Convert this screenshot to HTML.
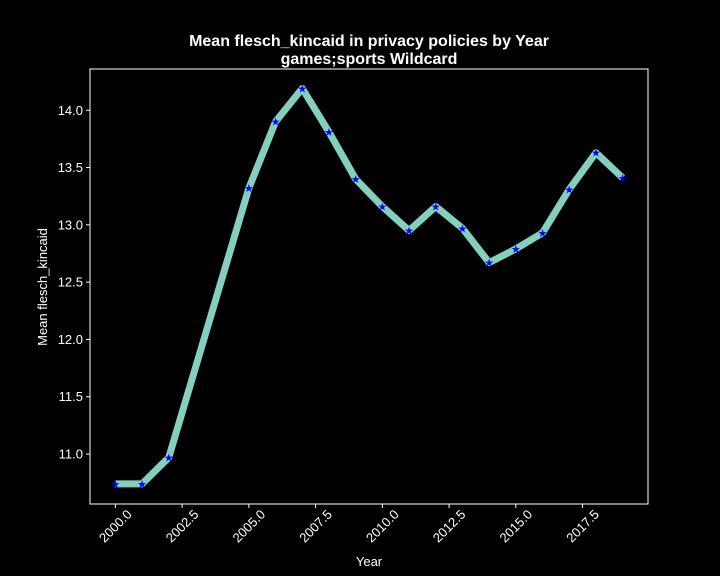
<!DOCTYPE html>
<html><head><meta charset="utf-8"><style>
body{margin:0;background:#000;}
svg{display:block;font-family:"Liberation Sans","DejaVu Sans",sans-serif;}
</style></head><body>
<svg id="chart" width="720" height="576">
<rect width="720" height="576" fill="#000"/>
<text x="369" y="46" fill="#fff" font-size="16" font-weight="bold" text-anchor="middle">Mean flesch_kincaid in privacy policies by Year</text>
<text x="369" y="64" fill="#fff" font-size="16" font-weight="bold" text-anchor="middle">games;sports Wildcard</text>
<rect x="90" y="69" width="558" height="435" fill="none" stroke="#fff" stroke-width="1"/>
<g id="xt"></g><g id="yt"></g><g id="series"></g>
<text x="369" y="566" fill="#fff" font-size="13" text-anchor="middle">Year</text>
<text transform="translate(47,287) rotate(-90)" fill="#fff" font-size="13" text-anchor="middle">Mean flesch_kincaid</text>
</svg>
<script>
const years=[2000,2001,2002,2005,2006,2007,2008,2009,2010,2011,2012,2013,2014,2015,2016,2017,2018,2019];
const values=[10.74,10.74,10.97,13.32,13.90,14.19,13.81,13.40,13.16,12.95,13.16,12.97,12.67,12.79,12.93,13.31,13.63,13.41];
const xTicks=[2000,2002.5,2005,2007.5,2010,2012.5,2015,2017.5];
const yTicks=[11.0,11.5,12.0,12.5,13.0,13.5,14.0];
const NS="http://www.w3.org/2000/svg";
const X0=90,X1=648,Y0=69,Y1=504;
const xMin=1999.05,xMax=2019.95,yMin=10.564,yMax=14.36;
const sx=v=>X0+(v-xMin)/(xMax-xMin)*(X1-X0);
const sy=v=>Y1-(v-yMin)/(yMax-yMin)*(Y1-Y0);
function mk(t,a,p){const e=document.createElementNS(NS,t);for(const k in a)e.setAttribute(k,a[k]);p.appendChild(e);return e;}
const xt=document.getElementById('xt'),yt=document.getElementById('yt'),sg=document.getElementById('series');
xTicks.forEach(v=>{const x=sx(v);
const l=mk('line',{x1:x,x2:x,y1:Y1,y2:Y1+4,stroke:'#fff'},xt);


const cy=Y1+22;
const t=mk('text',{x:x,y:cy+4.5,fill:'#fff','font-size':13,'text-anchor':'middle',transform:`rotate(-45 ${x} ${cy})`},xt);
t.textContent=v.toFixed(1);

});
yTicks.forEach(v=>{const y=sy(v);
const l=mk('line',{x1:X0-4,x2:X0,y1:y,y2:y,stroke:'#fff'},yt);


const t=mk('text',{x:X0-7,y:y+4.5,fill:'#fff','font-size':13,'text-anchor':'end'},yt);
t.textContent=v.toFixed(1);

});
const pts=years.map((y,i)=>sx(y)+','+sy(values[i])).join(' ');
const pl=mk('polyline',{points:pts,fill:'none',stroke:'#84d0c0','stroke-width':7,'stroke-linejoin':'round'},sg);


years.forEach((y,i)=>{const t=mk('text',{x:sx(y),y:sy(values[i])+4,fill:'#0000ff','font-size':11,'text-anchor':'middle'},sg);
t.textContent='★';

});
</script>
</body></html>
